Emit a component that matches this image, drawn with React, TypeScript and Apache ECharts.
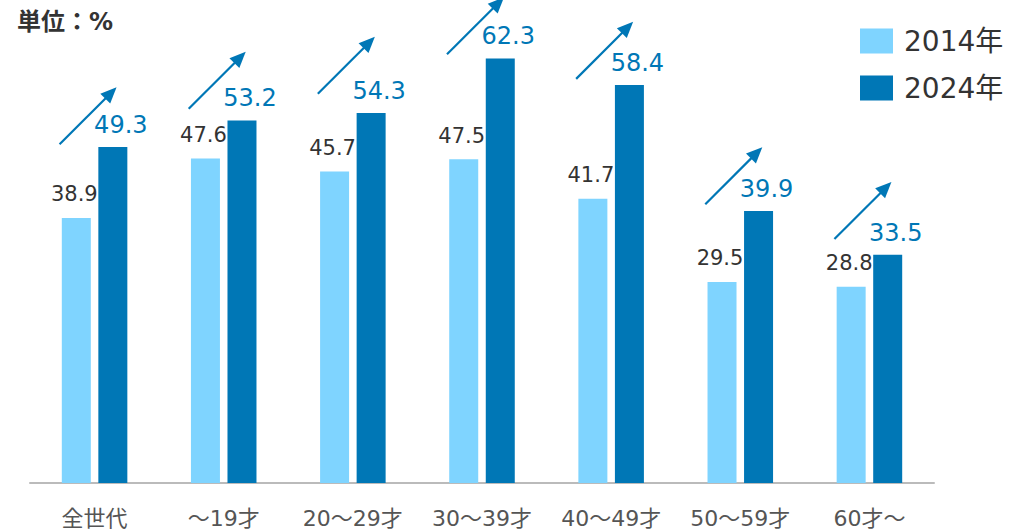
import React, { useEffect, useRef } from "react";
import * as echarts from "echarts";

const categories = ["全世代", "～19才", "20～29才", "30～39才", "40～49才", "50～59才", "60才～"];
const values2014 = [38.9, 47.6, 45.7, 47.5, 41.7, 29.5, 28.8];
const values2024 = [49.3, 53.2, 54.3, 62.3, 58.4, 39.9, 33.5];
// level (in %) at which each rising arrow starts
const arrowStart = [49.7, 54.9, 57.1, 62.9, 59.3, 40.9, 35.8];
const seriesNames = ["2014年", "2024年"];

const LIGHT = "#7fd4ff";
const DARK = "#0077b6";
const FONT = "'DejaVu Sans', 'Noto Sans CJK JP', sans-serif";

export default function App() {
  const ref = useRef<HTMLDivElement>(null);
  useEffect(() => {
    document.body.style.margin = "0";
    const chart = echarts.init(ref.current!, null, { renderer: "svg" });
    const arrowData = arrowStart.map((v, i) => [i, v]);
    chart.setOption({
      animation: false,
      textStyle: { fontFamily: FONT },
      title: {
        text: "単位：%",
        left: 17,
        top: 10,
        padding: 0,
        textStyle: { fontSize: 24, fontWeight: "bold", color: "#333", fontFamily: FONT },
      },
      legend: {
        data: seriesNames,
        orient: "vertical",
        left: 855,
        top: 22,
        itemWidth: 33,
        itemHeight: 25,
        itemGap: 19,
        icon: "rect",
        textStyle: { fontSize: 28, color: "#333", fontFamily: FONT, padding: [0, 0, 0, 6] },
      },
      grid: { left: 30, right: 76, top: 40, bottom: 48 },
      xAxis: {
        type: "category",
        data: categories,
        axisLine: { lineStyle: { color: "#bbbbbb", width: 2 } },
        axisTick: { show: false },
        axisLabel: { fontSize: 22, color: "#555", margin: 24, fontFamily: FONT, interval: 0 },
      },
      yAxis: {
        type: "value",
        min: 0,
        max: 65,
        show: false,
        splitLine: { show: false },
      },
      series: [
        {
          name: seriesNames[0],
          type: "bar",
          data: values2014,
          barWidth: 29,
          barGap: "26%",
          itemStyle: { color: LIGHT },
          label: {
            show: true,
            position: "top",
            distance: 13,
            offset: [-2, 0],
            color: "#333",
            fontSize: 21,
            fontFamily: FONT,
            formatter: (p: any) => p.value.toFixed(1),
          },
        },
        {
          name: seriesNames[1],
          type: "bar",
          data: values2024,
          barWidth: 29,
          itemStyle: { color: DARK },
          label: {
            show: true,
            position: "top",
            distance: 10,
            offset: [8, 0],
            color: DARK,
            fontSize: 24,
            fontFamily: FONT,
            formatter: (p: any) => p.value.toFixed(1),
          },
        },
        {
          name: "arrow",
          type: "custom",
          data: arrowData,
          encode: { x: 0, y: 1 },
          silent: true,
          z: 5,
          renderItem: (params: any, api: any) => {
            const p = api.coord([api.value(0), api.value(1)]);
            const x0 = p[0] - 35;
            const y0 = p[1];
            const L = 57;
            const x1 = x0 + L;
            const y1 = y0 - L;
            const s = Math.SQRT1_2;
            const head = 16;
            const half = 7;
            const bx = x1 - head * s;
            const by = y1 + head * s;
            return {
              type: "group",
              children: [
                {
                  type: "line",
                  shape: { x1: x0, y1: y0, x2: bx + 2 * s, y2: by - 2 * s },
                  style: { stroke: DARK, lineWidth: 2.2 },
                },
                {
                  type: "polygon",
                  shape: {
                    points: [
                      [x1, y1],
                      [bx + half * s, by + half * s],
                      [bx - half * s, by - half * s],
                    ],
                  },
                  style: { fill: DARK },
                },
              ],
            };
          },
        },
      ],
    });
    return () => chart.dispose();
  }, []);
  return <div ref={ref} style={{ width: 1010, height: 531 }} />;
}
